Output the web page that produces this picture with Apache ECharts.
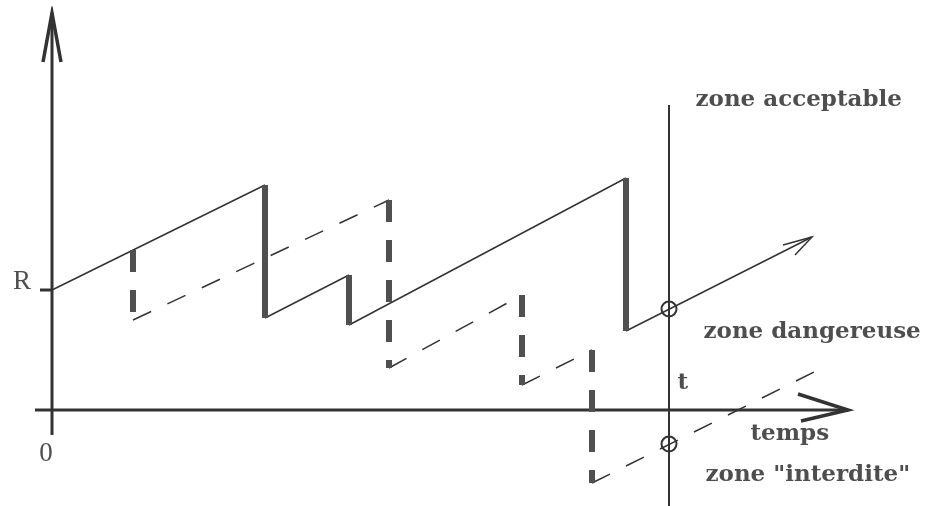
<!DOCTYPE html>
<html>
<head>
<meta charset="utf-8">
<script src="https://cdn.jsdelivr.net/npm/echarts@6/dist/echarts.min.js"></script>
<style>
  html, body { margin: 0; background: #fff; }
  #chart { width: 928px; height: 506px; }
</style>
</head>
<body>
<div id="chart"></div>
<script>
// x = temps, y = resistance ; R is the starting level
var R = 12.0;

// solid path (real resistance) : slow rises and sudden drops
var solidRises = [
  [[0, 12.0], [21.3, 22.5]],
  [[21.3, 9.2], [29.7, 13.5]],
  [[29.7, 8.5], [57.4, 23.2]],
  [[57.4, 7.9], [76.0, 17.3]]
];
var solidDrops = [
  [[21.3, 22.5], [21.3, 9.2]],
  [[29.7, 13.5], [29.7, 8.5]],
  [[57.4, 23.2], [57.4, 7.9]]
];

// dashed path
var dashedRises = [
  [[8.1, 9.0], [33.7, 21.0]],
  [[33.7, 4.2], [47.0, 11.5]],
  [[47.0, 2.5], [54.0, 6.0]],
  [[54.0, -7.3], [76.2, 3.8]]
];
var dashedDrops = [
  [[8.1, 16.0], [8.1, 9.0]],
  [[33.7, 21.0], [33.7, 4.2]],
  [[47.0, 11.5], [47.0, 2.5]],
  [[54.0, 6.0], [54.0, -7.3]]
];

// instant t and where both paths cross it
var tInstant = 61.7;
var tLine = [[tInstant, 30.5], [tInstant, -9.6]];
var crossings = [[tInstant, 10.1], [tInstant, -3.4]];

// axes
var axisLines = [
  [[-1.7, 0], [79.6, 0]],
  [[0, -2.5], [0, 39.7]],
  [[-1.2, R], [0, R]]
];
var yArrow = [[-0.9, 34.8], [0, 39.7], [0.9, 34.8]];
var xArrow = [[74.6, 1.6], [79.6, 0], [74.9, -1.1]];
var pathArrow = [[73.1, 16.5], [76.0, 17.3], [74.3, 15.5]];

// texts
var axisTexts = [['R', -3.0, 12.8], ['0', -0.6, -4.4]];
var zoneTexts = [
  ['zone acceptable', 64.3, 31.0],
  ['zone dangereuse', 65.1, 7.8],
  ['t', 62.5, 2.7],
  ['temps', 69.8, -2.4],
  ['zone "interdite"', 65.3, -6.5]
];

var ink = '#333333';
var bar = '#505050';

function segs(list) {
  return list.map(function (s) { return { coords: s }; });
}

var chart = echarts.init(document.getElementById('chart'));
chart.setOption({
  animation: false,
  backgroundColor: '#ffffff',
  grid: { left: 2, right: 76, top: 8, bottom: 0 },
  xAxis: { type: 'value', min: -5, max: 80, show: false },
  yAxis: { type: 'value', min: -9.6, max: 40.2, show: false },
  series: [
    {
      type: 'lines', coordinateSystem: 'cartesian2d', polyline: true,
      data: segs(axisLines),
      lineStyle: { color: ink, width: 3, opacity: 1 }
    },
    {
      type: 'lines', coordinateSystem: 'cartesian2d', polyline: true,
      data: segs([yArrow, xArrow]),
      lineStyle: { color: ink, width: 3.5, opacity: 1 }
    },
    {
      type: 'lines', coordinateSystem: 'cartesian2d', polyline: true,
      data: segs([tLine]),
      lineStyle: { color: ink, width: 2, opacity: 1 }
    },
    {
      type: 'lines', coordinateSystem: 'cartesian2d', polyline: true,
      data: segs(solidRises.concat([pathArrow])),
      lineStyle: { color: ink, width: 1.5, opacity: 1 }
    },
    {
      type: 'lines', coordinateSystem: 'cartesian2d', polyline: true,
      data: segs(solidDrops),
      lineStyle: { color: bar, width: 6, opacity: 1 }
    },
    {
      type: 'lines', coordinateSystem: 'cartesian2d', polyline: true,
      data: segs(dashedRises),
      lineStyle: { color: ink, width: 1.5, opacity: 1, type: [20, 18] }
    },
    {
      type: 'lines', coordinateSystem: 'cartesian2d', polyline: true,
      data: segs(dashedDrops),
      lineStyle: { color: bar, width: 6, opacity: 1, type: [22, 18] }
    },
    {
      type: 'scatter',
      data: crossings,
      symbol: 'circle',
      symbolSize: 15,
      itemStyle: { color: 'rgba(0,0,0,0)', borderColor: ink, borderWidth: 2, opacity: 1 },
      z: 5
    },
    {
      type: 'scatter',
      data: axisTexts.map(function (d) { return { name: d[0], value: [d[1], d[2]] }; }),
      symbolSize: 1,
      itemStyle: { color: 'rgba(0,0,0,0)' },
      label: {
        show: true, position: 'inside', formatter: '{b}',
        color: '#222', fontFamily: 'Liberation Serif', fontSize: 27
      }
    },
    {
      type: 'scatter',
      data: zoneTexts.map(function (d) { return { name: d[0], value: [d[1], d[2]] }; }),
      symbolSize: 1,
      itemStyle: { color: 'rgba(0,0,0,0)' },
      label: {
        show: true, position: 'right', distance: 0, formatter: '{b}',
        color: '#222', fontFamily: 'DejaVu Serif', fontWeight: 'bold', fontSize: 23
      }
    }
  ]
});
</script>
</body>
</html>
